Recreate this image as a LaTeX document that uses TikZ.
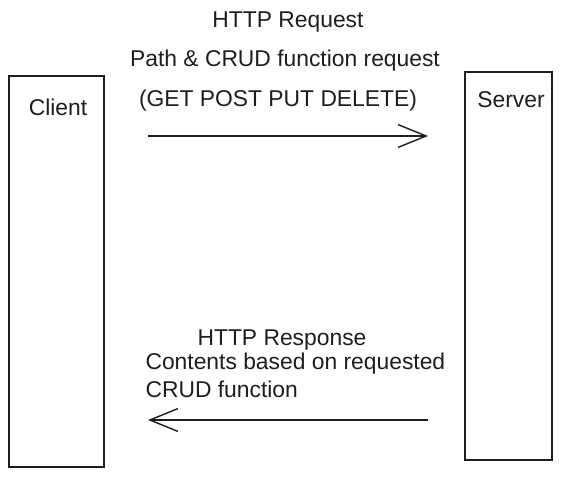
\documentclass[tikz,border=0pt]{standalone}
\usepackage{fontspec}
\setmainfont{Liberation Sans}
\usetikzlibrary{arrows.meta}
\definecolor{inkcolor}{HTML}{1e1e1e}

\begin{document}
\begin{tikzpicture}[x=0.02cm, y=-0.02cm, line width=0.8pt,
  every node/.style={text=inkcolor, font=\fontsize{13}{15}\selectfont},
  lanebox/.style={draw=inkcolor, inner sep=0pt},
  flow/.style={draw=inkcolor, -{Straight Barb[length=16pt, width=13pt, line width=0.8pt]}}]

%%=== COORDINATE PLAN (px, y down) ===================================
%%  canvas 562 x 477
%%  Client lane  x=9..104   y=76..467
%%  Server lane  x=465..552 y=72..460
%%  request arrow y=136, response arrow y=420, x=148..428
%%====================================================================

\useasboundingbox (0,0) rectangle (562,477);

%% --- Lanes ---------------------------------------------------------
\draw[lanebox] (9,76) rectangle (104,467);
\draw[lanebox] (465,72) rectangle (552,460);
\node (client) at (58,107) {Client};
\node (server) at (511,100) {Server};

%% --- Request labels ------------------------------------------------
\node (reqtitle) at (288,22) {HTTP Request};
\node (reqpath)  at (285,61) {Path \& CRUD function request};
\node (reqverbs) at (278,101) {(GET POST PUT DELETE)};

%% --- Response labels -----------------------------------------------
\node (resptitle) at (282,340) {HTTP Response};
\node[anchor=west] (respbody) at (139,364) {Contents based on requested};
\node[anchor=west] (respcrud) at (139,389) {CRUD function};

%% --- Arrows --------------------------------------------------------
\coordinate (reqstart)  at (148,136);
\coordinate (reqend)    at (428,136);
\coordinate (respstart) at (428,420);
\coordinate (respend)   at (148,420);
\draw[flow] (reqstart) -- (reqend);
\draw[flow] (respstart) -- (respend);

\end{tikzpicture}
\end{document}
